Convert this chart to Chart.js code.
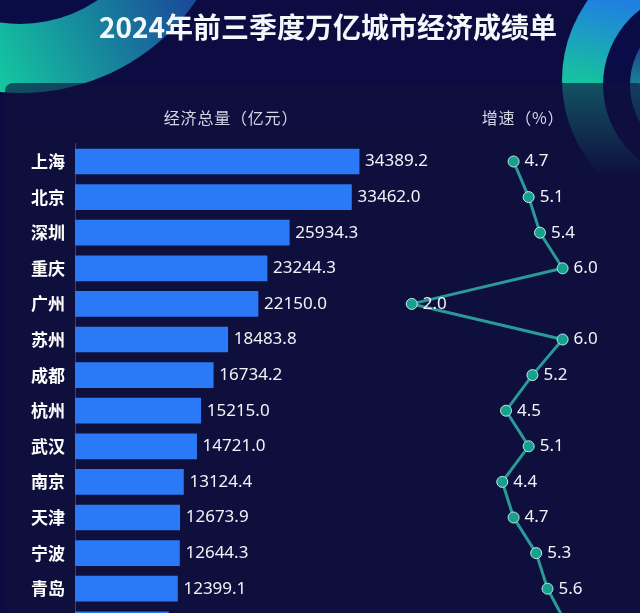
<!DOCTYPE html>
<html>
<head>
<meta charset="utf-8">
<script src="https://cdn.jsdelivr.net/npm/chart.js@4"></script>
<style>
  html, body { margin: 0; padding: 0; background: #0f0f3d; overflow: hidden; }
  #wrap { position: relative; width: 640px; height: 613px; overflow: hidden; font-family: "Noto Sans CJK SC", sans-serif; }
  #chart { position: absolute; left: 0; top: 0; }
  .txt { position: absolute; white-space: nowrap; color: #fff; transform: translate(-50%, -50%); }
  #title { left: 328px; top: 26px; font-size: 28px; font-weight: 700; color: #f4f8fb; }
  .head { top: 117px; font-size: 16px; letter-spacing: 0.8px; color: #d4d6e4; }
</style>
</head>
<body>
<div id="wrap">
  <canvas id="chart" width="640" height="660"></canvas>
  <div id="title" class="txt">2024年前三季度万亿城市经济成绩单</div>
  <div class="txt head" style="left:231px">经济总量（亿元）</div>
  <div class="txt head" style="left:523px">增速（%）</div>
</div>
<script>
"use strict";

// last row is cut off by the picture edge, its name and labels cannot be read
const cities = ["上海", "北京", "深圳", "重庆", "广州", "苏州", "成都", "杭州", "武汉", "南京", "天津", "宁波", "青岛", ""];
const gdpValues = [34389.2, 33462.0, 25934.3, 23244.3, 22150.0, 18483.8, 16734.2, 15215.0, 14721.0, 13124.4, 12673.9, 12644.3, 12399.1, 11300];
const growthValues = [4.7, 5.1, 5.4, 6.0, 2.0, 6.0, 5.2, 4.5, 5.1, 4.4, 4.7, 5.3, 5.6, 6.1];

function fillCircle(ctx, x, y, r, style) {
  ctx.fillStyle = style;
  ctx.beginPath();
  ctx.arc(x, y, r, 0, Math.PI * 2);
  ctx.fill();
}

const backdrop = {
  id: "backdrop",
  beforeDraw(chart) {
    const { ctx } = chart;
    ctx.save();
    ctx.fillStyle = "#0c0c42";
    ctx.fillRect(0, 0, 640, 660);

    // top left ring
    let grad = ctx.createLinearGradient(190, 0, 0, 90);
    grad.addColorStop(0, "#1a4a9a");
    grad.addColorStop(1, "#14c8a0");
    fillCircle(ctx, 21, -119, 212, grad);
    fillCircle(ctx, 20, -114, 138, "#0a0c48");

    // top right ring
    grad = ctx.createLinearGradient(610, 0, 590, 80);
    grad.addColorStop(0, "#2080e0");
    grad.addColorStop(1, "#16c0a0");
    fillCircle(ctx, 698, 80, 136, grad);
    fillCircle(ctx, 698, 85, 95, "#0a0c48");
    grad = ctx.createLinearGradient(640, 40, 640, 90);
    grad.addColorStop(0, "#1c3a8c");
    grad.addColorStop(1, "#1a8a98");
    fillCircle(ctx, 705, 85, 75, grad);

    // panel over the lower part of the rings
    grad = ctx.createLinearGradient(0, 83, 0, 175);
    grad.addColorStop(0, "rgba(15,15,61,0.62)");
    grad.addColorStop(1, "rgba(15,15,61,1)");
    ctx.fillStyle = grad;
    ctx.beginPath();
    ctx.roundRect(5, 83, 640, 600, 8);
    ctx.fill();
    ctx.restore();
  },
};

const valueLabels = {
  id: "valueLabels",
  afterDatasetsDraw(chart) {
    const { ctx } = chart;
    ctx.save();
    ctx.fillStyle = "#f2f3f8";
    ctx.textBaseline = "middle";
    ctx.textAlign = "left";
    ctx.font = '17px "Noto Sans", sans-serif';
    chart.getDatasetMeta(1).data.forEach((bar, i) => {
      if (cities[i]) ctx.fillText(gdpValues[i].toFixed(1), bar.x + 6, bar.y);
    });
    chart.getDatasetMeta(0).data.forEach((pt, i) => {
      if (cities[i]) ctx.fillText(growthValues[i].toFixed(1), pt.x + 11, pt.y);
    });
    ctx.restore();
  },
};

new Chart(document.getElementById("chart"), {
  type: "bar",
  data: {
    labels: cities,
    datasets: [
      {
        type: "line",
        data: growthValues,
        xAxisID: "xRate",
        yAxisID: "y",
        borderColor: "#2a9a98",
        borderWidth: 3,
        tension: 0,
        pointRadius: 5.5,
        pointBackgroundColor: "#17a08e",
        pointBorderColor: "#bfe8e4",
        pointBorderWidth: 1,
        order: 1,
      },
      {
        type: "bar",
        data: gdpValues,
        xAxisID: "x",
        yAxisID: "y",
        backgroundColor: "#2a7af7",
        barThickness: 25,
        order: 2,
      },
    ],
  },
  plugins: [backdrop, valueLabels],
  options: {
    indexAxis: "y",
    responsive: false,
    animation: false,
    layout: { padding: { top: 143.7, bottom: 17.9 } },
    plugins: { legend: { display: false }, tooltip: { enabled: false } },
    scales: {
      x: { display: false, min: 0, max: 67600 },
      xRate: { display: false, position: "top", min: -6.93, max: 7.88 },
      y: {
        afterFit(scale) { scale.width = 75; },
        grid: { display: false },
        border: { color: "rgba(120,130,170,0.45)" },
        ticks: { color: "#ffffff", font: { family: "Noto Sans CJK SC", size: 17, weight: "bold" }, padding: 2, autoSkip: false },
      },
    },
  },
});
</script>
</body>
</html>
